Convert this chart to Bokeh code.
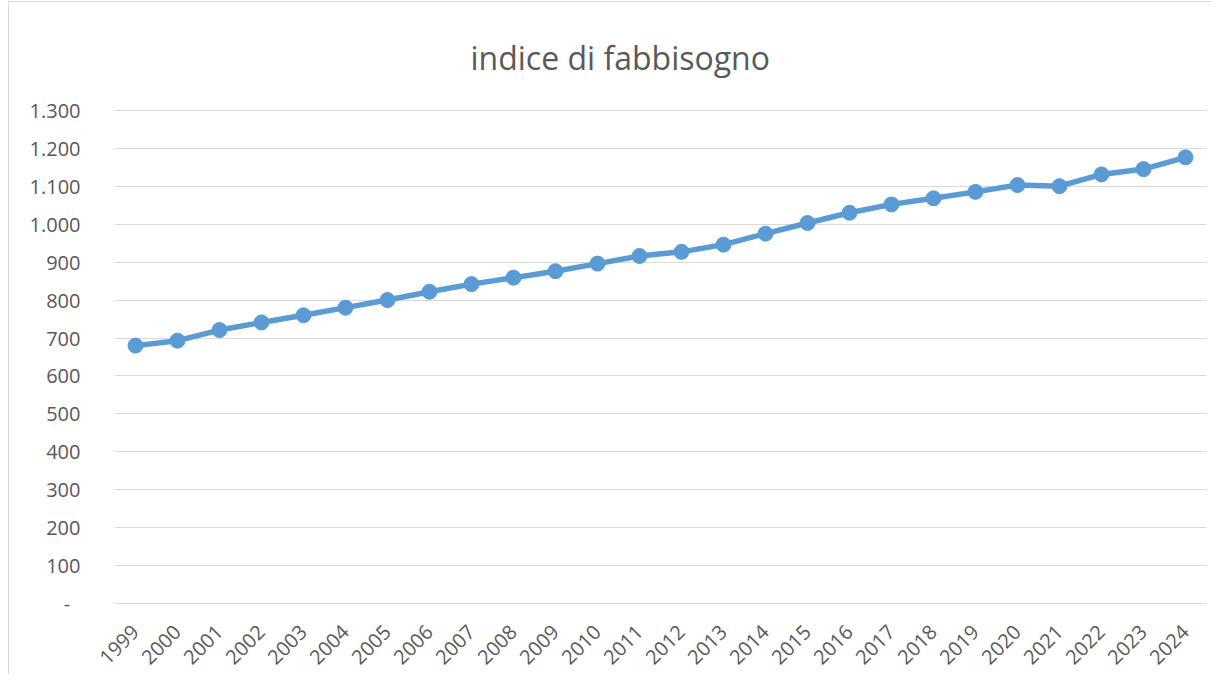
import math
from bokeh.plotting import figure
from bokeh.models import FixedTicker, Range1d
from bokeh.embed import file_html
from bokeh.resources import INLINE

title_text = "indice di fabbisogno"
years = [str(y) for y in range(1999, 2025)]
values = [680, 693, 721, 741, 760, 780, 800, 822, 842, 859, 876, 896, 916,
          927, 946, 975, 1003, 1030, 1052, 1068, 1085, 1103, 1100, 1131, 1145, 1176]
y_ticks = [0, 100, 200, 300, 400, 500, 600, 700, 800, 900, 1000, 1100, 1200, 1300]
y_tick_labels = ["-\u00a0\u00a0", "100", "200", "300", "400", "500", "600", "700", "800",
                 "900", "1.000", "1.100", "1.200", "1.300"]

TEXT = "#595959"
BLUE = "#5B9BD5"
FONT = "Open Sans"

p = figure(width=1203, height=673, x_range=years, y_range=Range1d(-2, 1302),
           output_backend="svg", toolbar_location=None,
           min_border_left=105, min_border_right=6,
           min_border_top=103, min_border_bottom=71,
           margin=(1, 0, 0, 8))
p.styles = {"border-left": "1px solid #d9d9d9", "border-top": "1px solid #d9d9d9"}
p.outline_line_color = None
p.background_fill_color = "white"
p.border_fill_color = "white"

p.title.text = title_text
p.title.align = "left"
p.title.vertical_align = "bottom"
p.title.text_font = FONT
p.title.text_font_size = "32px"
p.title.text_font_style = "normal"
p.title.text_color = TEXT
p.title.standoff = 62
p.title.offset = 356

p.xgrid.grid_line_color = None
p.ygrid.grid_line_color = "#d9d9d9"
p.ygrid.grid_line_width = 1

p.yaxis.ticker = FixedTicker(ticks=y_ticks)
p.yaxis.major_label_overrides = {t: l for t, l in zip(y_ticks, y_tick_labels)}
for ax in (p.xaxis, p.yaxis):
    ax.axis_line_color = None
    ax.major_tick_line_color = None
    ax.minor_tick_line_color = None
    ax.major_label_text_font = FONT
    ax.major_label_text_font_size = "20px"
    ax.major_label_text_color = TEXT
p.yaxis.major_label_standoff = 28
p.xaxis.major_label_standoff = 18
p.xaxis.major_label_orientation = math.pi / 4

p.line(years, values, line_width=5.5, color=BLUE, line_join="round")
p.scatter(years, values, size=15, color=BLUE)

open("out.html", "w").write(file_html(p, INLINE))
